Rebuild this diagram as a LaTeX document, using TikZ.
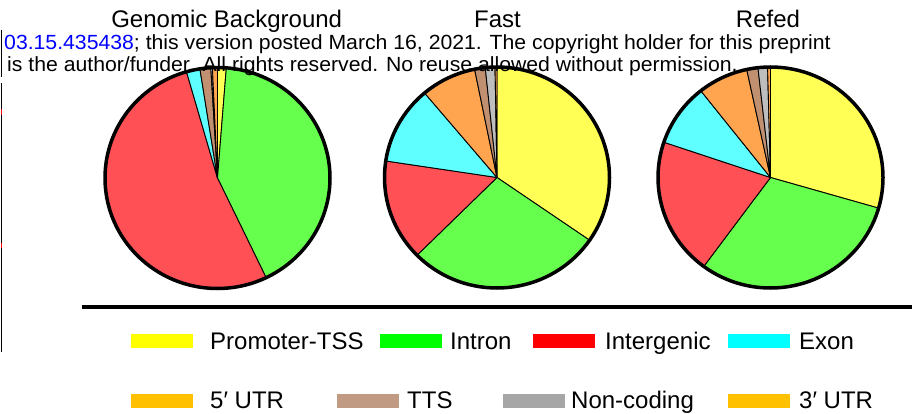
\documentclass[tikz,border=0pt]{standalone}
\usepackage{fontspec}
\setmainfont{Liberation Sans}
\definecolor{pieY}{HTML}{FFFF55}
\definecolor{pieG}{HTML}{66FF4D}
\definecolor{pieR}{HTML}{FF5055}
\definecolor{pieC}{HTML}{5FFFFF}
\definecolor{pieO}{HTML}{FFA550}
\definecolor{pieB}{HTML}{C09070}
\definecolor{pieGr}{HTML}{BEBEBE}
\definecolor{legY}{HTML}{FFFF00}
\definecolor{legG}{HTML}{00FF00}
\definecolor{legR}{HTML}{FF0000}
\definecolor{legC}{HTML}{00FFFF}
\definecolor{legO}{HTML}{FFC000}
\definecolor{legB}{HTML}{C09A82}
\definecolor{legGr}{HTML}{A6A6A6}
\newcommand\prx{112.5}
\newcommand\pry{110.5}
\newcommand\pieslice[4]{%
  \filldraw[fill=#4, draw=black, line width=0.9, line join=round]
    (#1) -- +({\prx*cos(#2-90)},{\pry*sin(#2-90)}) arc[start angle={#2-90}, end angle={#3-90}, x radius=\prx, y radius=\pry] -- cycle;}
\begin{document}
\begin{tikzpicture}[x=1pt, y=-1pt,
  titletext/.style={font=\fontsize{24}{28}\selectfont, inner sep=0, anchor=base},
  wmtext/.style={font=\fontsize{20.5}{24}\selectfont, xscale=1.035, inner sep=0, anchor=base west},
  legtext/.style={font=\fontsize{24}{28}\selectfont, inner sep=0, anchor=base west},
  legbox/.style={minimum width=62, minimum height=14, inner sep=0, draw=none},
  pieedge/.style={line width=3.5}]
\useasboundingbox (0,0) rectangle (912,414);
% left margin artefact lines
\draw[line width=1.8] (1.5,30) coordinate (m1) -- (1.5,77) coordinate (m2);
\draw[line width=1.8] (1.5,83) coordinate (m3) -- (1.5,352) coordinate (m4);
\draw[legR, line width=1.8] (1.5,109) -- (1.5,115);
\draw[legR, line width=1.8] (1.5,243) -- (1.5,248);
% pie centres
\coordinate (pA) at (217.5,178);
\coordinate (pB) at (497,177.5);
\coordinate (pC) at (770.5,177.5);
% Genomic background
\foreach \a/\b/\col in {0/4.5/pieY, 4.5/154.4/pieG, 154.4/344/pieR, 344/351/pieC, 351/356.6/pieB, 356.6/357.4/pieGr, 357.4/360/pieO}
  {\pieslice{pA}{\a}{\b}{\col}}
% Fast
\foreach \a/\b/\col in {0/124.6/pieY, 124.6/225.3/pieG, 225.3/278.6/pieR, 278.6/319.9/pieC, 319.9/348.5/pieO, 348.5/354/pieB, 354/359/pieGr, 359/360/pieO}
  {\pieslice{pB}{\a}{\b}{\col}}
% Refed
\foreach \a/\b/\col in {0/106.1/pieY, 106.1/216.4/pieG, 216.4/288.6/pieR, 288.6/321.7/pieC, 321.7/347.8/pieO, 347.8/353.6/pieB, 353.6/358.5/pieGr, 358.5/360/pieO}
  {\pieslice{pC}{\a}{\b}{\col}}
\foreach \p in {pA,pB,pC}
  {\draw[pieedge] (\p) ellipse [x radius=\prx, y radius=\pry];}
% titles
\node[titletext] (tA) at (226.7,28) {Genomic Background};
\node[titletext] (tB) at (497.5,28) {Fast};
\node[titletext] (tC) at (768,28) {Refed};
% watermark text
\node[wmtext] (wm1) at (4,50) {\textcolor{blue}{03.15.435438}; this version posted March 16, 2021. The copyright holder for this preprint};
\node[wmtext] (wm2) at (7,72) {is the author/funder. All rights reserved. No reuse allowed without permission.};
% separator
\draw[line width=3.5] (82,307) coordinate (s1) -- (912,307) coordinate (s2);
% legend row 1
\node[legbox, fill=legY] (b1) at (162,341) {};
\node[legtext] (l1) at (210,349) {Promoter-TSS};
\node[legbox, fill=legG] (b2) at (410.5,341) {};
\node[legtext] (l2) at (450,349) {Intron};
\node[legbox, fill=legR] (b3) at (564,341) {};
\node[legtext] (l3) at (605,349) {Intergenic};
\node[legbox, fill=legC] (b4) at (758.5,341) {};
\node[legtext] (l4) at (799,349) {Exon};
% legend row 2
\node[legbox, fill=legO] (b5) at (162,400.5) {};
\node[legtext] (l5) at (210,408.5) {5′ UTR};
\node[legbox, fill=legB] (b6) at (367.5,400.5) {};
\node[legtext] (l6) at (407,408.5) {TTS};
\node[legbox, fill=legGr] (b7) at (533.5,400.5) {};
\node[legtext] (l7) at (571,408.5) {Non-coding};
\node[legbox, fill=legO] (b8) at (759,400.5) {};
\node[legtext] (l8) at (799,408.5) {3′ UTR};
\end{tikzpicture}
\end{document}
